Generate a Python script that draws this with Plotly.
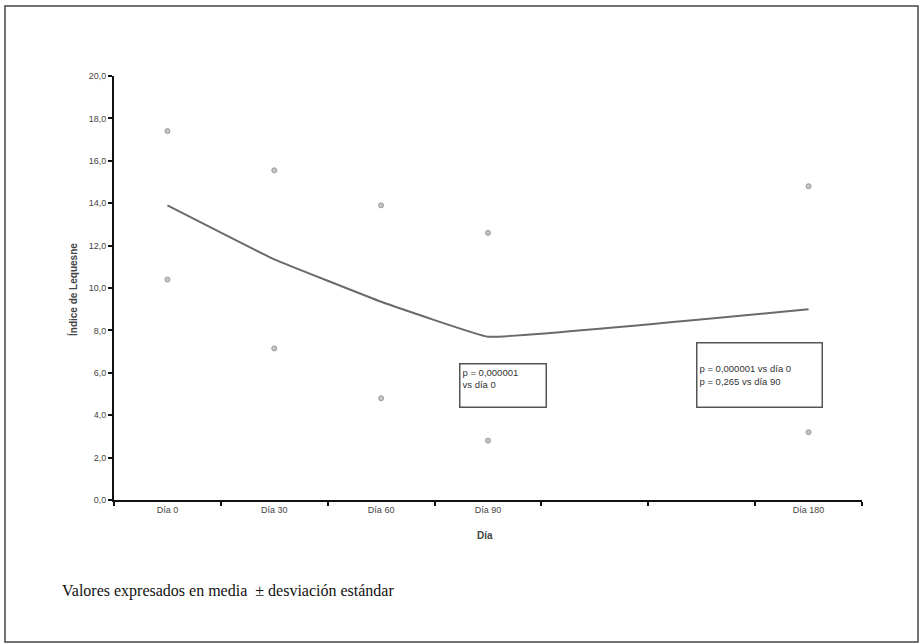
import plotly.graph_objects as go

# Índice de Lequesne por día de seguimiento (media y desviación estándar)
dias = [0, 30, 60, 90, 180]
etiquetas = ["Día 0", "Día 30", "Día 60", "Día 90", "Día 180"]
media = [13.9, 11.35, 9.35, 7.7, 9.0]
desv = [3.5, 4.2, 4.55, 4.9, 5.8]

y_ticks = [0, 2, 4, 6, 8, 10, 12, 14, 16, 18, 20]

W, H = 920, 644
L, R, T, B = 114, 58, 76, 144
PW, PH = W - L - R, H - T - B


def px(x, y):
    """Pixel position on the page -> paper coordinates."""
    return (x - L) / PW, (H - B - y) / PH


superior = [m + s for m, s in zip(media, desv)]
inferior = [m - s for m, s in zip(media, desv)]

fig = go.Figure()

fig.add_trace(go.Scatter(
    x=dias, y=media, mode="lines",
    line=dict(color="#6a6a6a", width=2, shape="spline", smoothing=0.2),
    showlegend=False, hoverinfo="skip",
))
for serie in (superior, inferior):
    fig.add_trace(go.Scatter(
        x=dias, y=serie, mode="markers",
        marker=dict(symbol="circle", size=5, color="#c4c4c4",
                    line=dict(color="#9a9a9a", width=1)),
        showlegend=False, hoverinfo="skip",
    ))

tick_font = dict(family="Liberation Sans, Arial", size=9, color="#444444")

fig.update_xaxes(
    range=[-15, 195], tickmode="array", tickvals=dias, ticktext=etiquetas,
    ticks="", tickfont=tick_font, showgrid=False, zeroline=False,
    showline=True, linecolor="#111111", linewidth=2,
    minor=dict(tick0=-15, dtick=30, ticks="outside", ticklen=4,
               tickcolor="#111111", tickwidth=2, showgrid=False),
)
fig.update_yaxes(
    range=[0, 20], tickmode="array", tickvals=y_ticks,
    ticktext=[f"{v:.1f}".replace(".", ",") for v in y_ticks],
    ticks="outside", ticklen=4, tickcolor="#111111", tickwidth=2,
    tickfont=tick_font, showgrid=False, zeroline=False,
    showline=True, linecolor="#111111", linewidth=2,
)

shapes = []
annotations = []

# marco exterior
x0, y0 = px(5, 6)
x1, y1 = px(918, 642)
shapes.append(dict(type="rect", xref="paper", yref="paper",
                   x0=x0, y0=y1, x1=x1, y1=y0,
                   line=dict(color="#444444", width=1.5), layer="below"))

# títulos de ejes
ax, ay = px(65, 290)
annotations.append(dict(text="<b>Índice de Lequesne</b>", x=ax, y=ay,
                        xref="paper", yref="paper", textangle=-90,
                        showarrow=False,
                        font=dict(family="Liberation Sans, Arial", size=10,
                                  color="#444444")))
bx, by = px(485, 543)
annotations.append(dict(text="<b>Día</b>", x=bx, y=by,
                        xref="paper", yref="paper", showarrow=False,
                        font=dict(family="Liberation Sans, Arial", size=10,
                                  color="#444444")))

# cuadros con valores p
cuadros = [
    ((459, 363, 545, 406), "p = 0,000001<br>vs día 0", "top"),
    ((696, 342, 821, 406), "p = 0,000001 vs día 0<br>p = 0,265 vs día 90",
     "middle"),
]
for (cx0, cy0, cx1, cy1), texto, va in cuadros:
    sx0, sy0 = px(cx0 + 1, cy0 + 1)
    sx1, sy1 = px(cx1 + 1, cy1 + 2)
    shapes.append(dict(type="rect", xref="paper", yref="paper",
                       x0=sx0, y0=sy1, x1=sx1, y1=sy0,
                       fillcolor="#9a9a9a", line=dict(width=0)))
    ax0, ay0 = px(cx0, cy0)
    annotations.append(dict(
        text=texto, x=ax0, y=ay0, xref="paper", yref="paper",
        xanchor="left", yanchor="top", showarrow=False, align="left",
        width=cx1 - cx0 - 5, height=cy1 - cy0 - 5,
        valign=va, bgcolor="white", bordercolor="#555555",
        borderwidth=1.5, borderpad=2,
        font=dict(family="Liberation Sans, Arial", size=9.5, color="#333333"),
    ))

# nota al pie
nx, ny = px(60, 591)
annotations.append(dict(
    text="Valores expresados en media  ± desviación estándar",
    x=nx, y=ny, xref="paper", yref="paper", xanchor="left",
    yanchor="middle", showarrow=False,
    font=dict(family="Liberation Serif, Times New Roman", size=16,
              color="#111111"),
))

fig.update_layout(
    width=W, height=H,
    margin=dict(l=L, r=R, t=T, b=B, pad=0),
    paper_bgcolor="white", plot_bgcolor="white",
    shapes=shapes, annotations=annotations,
    showlegend=False,
)

fig.write_html("out.html")
